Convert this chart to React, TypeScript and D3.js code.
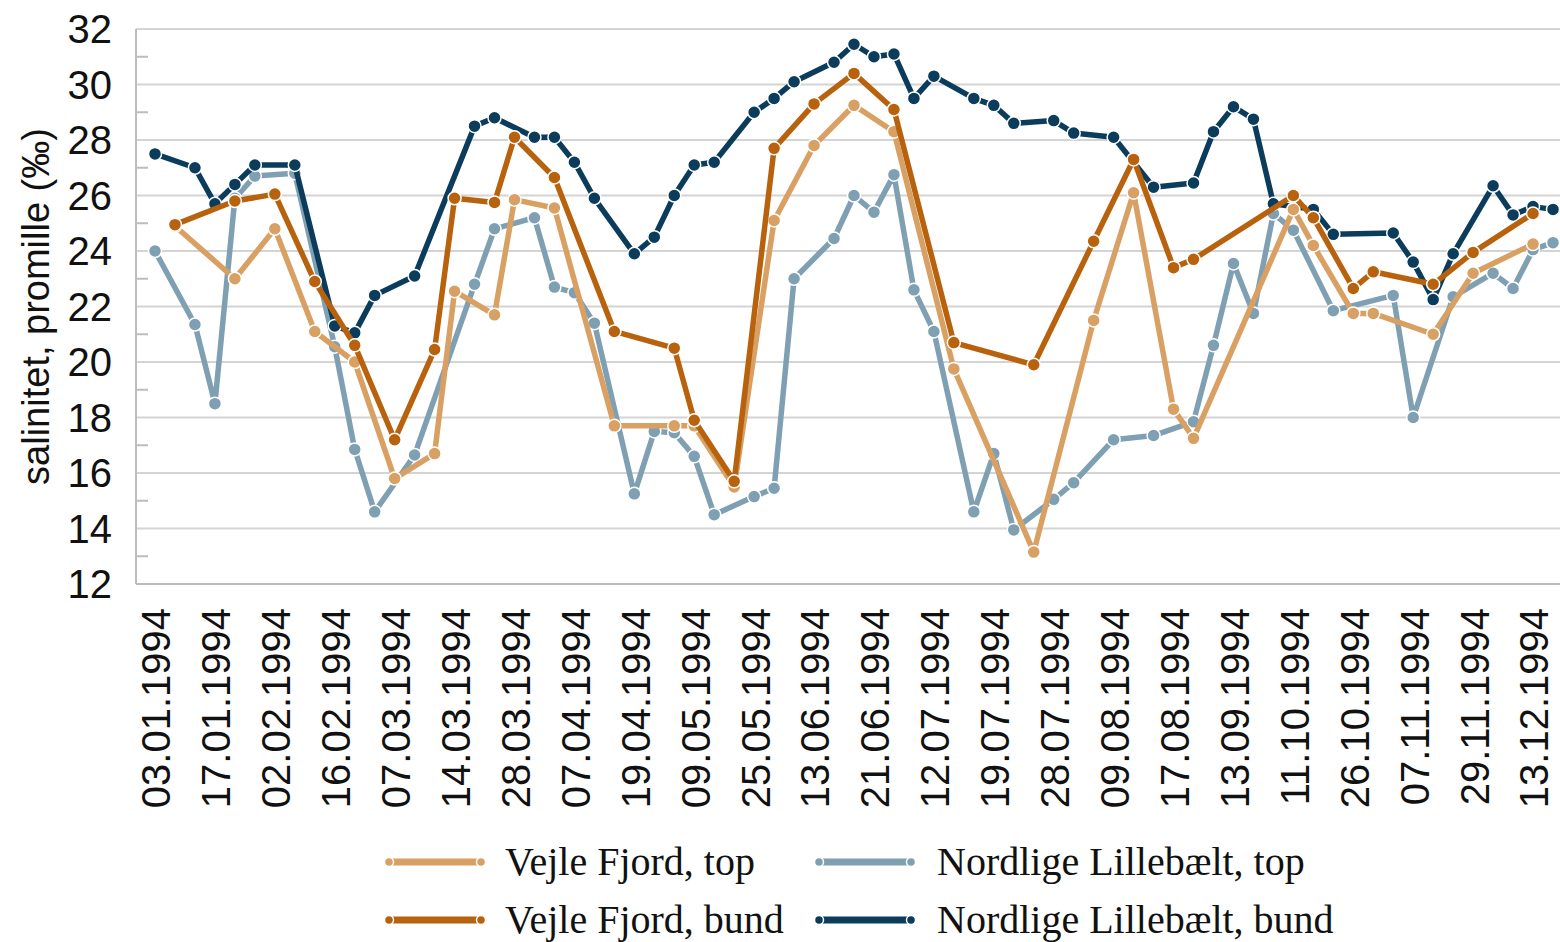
import React from 'react';
import * as d3 from 'd3';

const _ = null;

// 71 sampling dates; only every third one is labelled on the axis
const N = 71;
const tickEvery = 3;
const tickLabels = [
  '03.01.1994', '17.01.1994', '02.02.1994', '16.02.1994', '07.03.1994', '14.03.1994',
  '28.03.1994', '07.04.1994', '19.04.1994', '09.05.1994', '25.05.1994', '13.06.1994',
  '21.06.1994', '12.07.1994', '19.07.1994', '28.07.1994', '09.08.1994', '17.08.1994',
  '13.09.1994', '11.10.1994', '26.10.1994', '07.11.1994', '29.11.1994', '13.12.1994',
];
const yTicks = [12, 14, 16, 18, 20, 22, 24, 26, 28, 30, 32];
const yMinorTicks = [13, 15, 17, 19, 21, 23, 25, 27, 29, 31];

const nordTop: (number | null)[] = [
  24.0, _, 21.35, 18.5, 25.9, 26.7, _, 26.8, _, 20.55,
  16.85, 14.6, _, 16.65, _, _, 22.8, 24.8, _, 25.2,
  22.7, 22.5, 21.4, _, 15.25, 17.5, 17.45, 16.6, 14.5, _,
  15.15, 15.45, 23.0, _, 24.45, 26.0, 25.4, 26.75, 22.6, 21.1,
  _, 14.6, 16.7, 13.95, _, 15.05, 15.65, _, 17.2, _,
  17.35, _, 17.85, 20.6, 23.55, 21.75, 25.35, 24.75, _, 21.85,
  _, _, 22.4, 18.0, _, 22.35, _, 23.2, 22.65, 24.05,
  24.3,
];

const nordBund: (number | null)[] = [
  27.5, _, 27.0, 25.7, 26.4, 27.1, _, 27.1, _, 21.3,
  21.05, 22.4, _, 23.1, _, _, 28.5, 28.8, _, 28.1,
  28.1, 27.2, 25.9, _, 23.9, 24.5, 26.0, 27.1, 27.2, _,
  29.0, 29.5, 30.1, _, 30.8, 31.45, 31.0, 31.1, 29.5, 30.3,
  _, 29.5, 29.25, 28.6, _, 28.7, 28.25, _, 28.1, _,
  26.3, _, 26.45, 28.3, 29.2, 28.75, 25.7, _, 25.5, 24.6,
  _, _, 24.65, 23.6, 22.25, 23.9, _, 26.35, 25.3, 25.6,
  25.5,
];

const vejleTop: (number | null)[] = [
  _, 24.9, _, _, 23.0, _, 24.8, _, 21.1, _,
  20.0, _, 15.8, _, 16.7, 22.55, _, 21.7, 25.85, _,
  25.55, _, _, 17.7, _, _, 17.7, 17.7, _, 15.5,
  _, 25.1, _, 27.8, _, 29.25, _, 28.3, _, _,
  19.75, _, _, _, 13.15, _, _, 21.5, _, 26.1,
  _, 18.3, 17.25, _, _, _, _, 25.5, 24.2, _,
  21.75, 21.75, _, _, 21.0, _, 23.2, _, _, 24.25,
  _,
];

const vejleBund: (number | null)[] = [
  _, 24.95, _, _, 25.8, _, 26.05, _, 22.9, _,
  20.6, _, 17.2, _, 20.45, 25.9, _, 25.75, 28.1, _,
  26.65, _, _, 21.1, _, _, 20.5, 17.9, _, 15.7,
  _, 27.7, _, 29.3, _, 30.4, _, 29.1, _, _,
  20.7, _, _, _, 19.9, _, _, 24.35, _, 27.3,
  _, 23.4, 23.7, _, _, _, _, 26.0, 25.2, _,
  22.65, 23.25, _, _, 22.8, _, 23.95, _, _, 25.35,
  _,
];

const seriesNames = ['Nordlige Lillebælt, top', 'Nordlige Lillebælt, bund', 'Vejle Fjord, top', 'Vejle Fjord, bund'];
const seriesValues = [nordTop, nordBund, vejleTop, vejleBund];
const seriesColors = ['#7fa0b2', '#0b3c5b', '#d8a062', '#b8620e'];

// legend layout: [series index, row, col]
const legendOrder = [
  [2, 0, 0],
  [0, 0, 1],
  [3, 1, 0],
  [1, 1, 1],
];

export default function App() {
  const W = 1560;
  const H = 942;
  const left = 136;
  const right = 1560;
  const top = 29;
  const bottom = 584;

  const x = d3.scalePoint<number>().domain(d3.range(N)).range([155, 1553]);
  const y = d3.scaleLinear().domain([12, 32]).range([bottom, top]);

  const line = d3
    .line<[number, number]>()
    .x((d) => x(d[0]) as number)
    .y((d) => y(d[1]));

  const sansFont = '"Liberation Sans", Arial, sans-serif';
  const serifFont = '"Liberation Serif", "Times New Roman", serif';

  const legendX = [385, 815];
  const legendY = [862, 920];

  return (
    <svg
      width={W}
      height={H}
      style={{ position: 'absolute', left: 0, top: 0, background: '#fff' }}
    >
      <rect x={0} y={0} width={W} height={H} fill="#fff" />
      {/* gridlines */}
      {yTicks.map((t) => (
        <line
          key={'g' + t}
          x1={left}
          x2={right}
          y1={y(t)}
          y2={y(t)}
          stroke={t === 12 ? '#bcbcbc' : '#d4d4d4'}
          strokeWidth={2}
        />
      ))}
      {/* y axis */}
      <line x1={left} x2={left} y1={top} y2={bottom} stroke="#bcbcbc" strokeWidth={2} />
      {yMinorTicks.map((t) => (
        <line key={'m' + t} x1={left} x2={left + 12} y1={y(t)} y2={y(t)} stroke="#bcbcbc" strokeWidth={2} />
      ))}
      {yTicks.map((t) => (
        <text
          key={'yl' + t}
          x={112}
          y={y(t)}
          dy="0.36em"
          textAnchor="end"
          fontFamily={sansFont}
          fontSize={40}
          fill="#111"
        >
          {t}
        </text>
      ))}
      <text
        transform={`translate(36, ${(top + bottom) / 2}) rotate(-90)`}
        textAnchor="middle"
        dy="0.35em"
        fontFamily={sansFont}
        fontSize={38}
        fill="#111"
      >
        salinitet, promille (‰)
      </text>
      {/* x labels */}
      {tickLabels.map((lab, k) => {
        const cx = x(k * tickEvery) as number;
        return (
          <text
            key={'xl' + k}
            transform={`translate(${cx + 1}, 608) rotate(-90)`}
            textAnchor="end"
            dy="0.36em"
            fontFamily={sansFont}
            fontSize={40}
            fill="#111"
          >
            {lab}
          </text>
        );
      })}
      {/* series */}
      {seriesValues.map((vals, si) => {
        const pts: [number, number][] = [];
        vals.forEach((v, i) => {
          if (v !== null) pts.push([i, v]);
        });
        return (
          <g key={'s' + si}>
            <path
              d={line(pts) || ''}
              fill="none"
              stroke={seriesColors[si]}
              strokeWidth={5.5}
              strokeLinejoin="round"
            />
            {pts.map((p) => (
              <circle
                key={p[0]}
                cx={x(p[0]) as number}
                cy={y(p[1])}
                r={6.5}
                fill={seriesColors[si]}
                stroke="#fff"
                strokeWidth={1.5}
              />
            ))}
          </g>
        );
      })}
      {/* legend */}
      {legendOrder.map(([si, row, col]) => {
        const lx = legendX[col];
        const ly = legendY[row];
        return (
          <g key={'lg' + si}>
            <line x1={lx + 6} x2={lx + 94} y1={ly} y2={ly} stroke={seriesColors[si]} strokeWidth={7} />
            <circle cx={lx + 4} cy={ly} r={4.5} fill={seriesColors[si]} stroke="#fff" strokeWidth={1.5} />
            <circle cx={lx + 96} cy={ly} r={4.5} fill={seriesColors[si]} stroke="#fff" strokeWidth={1.5} />
            <text
              x={lx + (col === 0 ? 120 : 122)}
              y={ly}
              dy="0.33em"
              fontFamily={serifFont}
              fontSize={40}
              fill="#111"
            >
              {seriesNames[si]}
            </text>
          </g>
        );
      })}
    </svg>
  );
}
